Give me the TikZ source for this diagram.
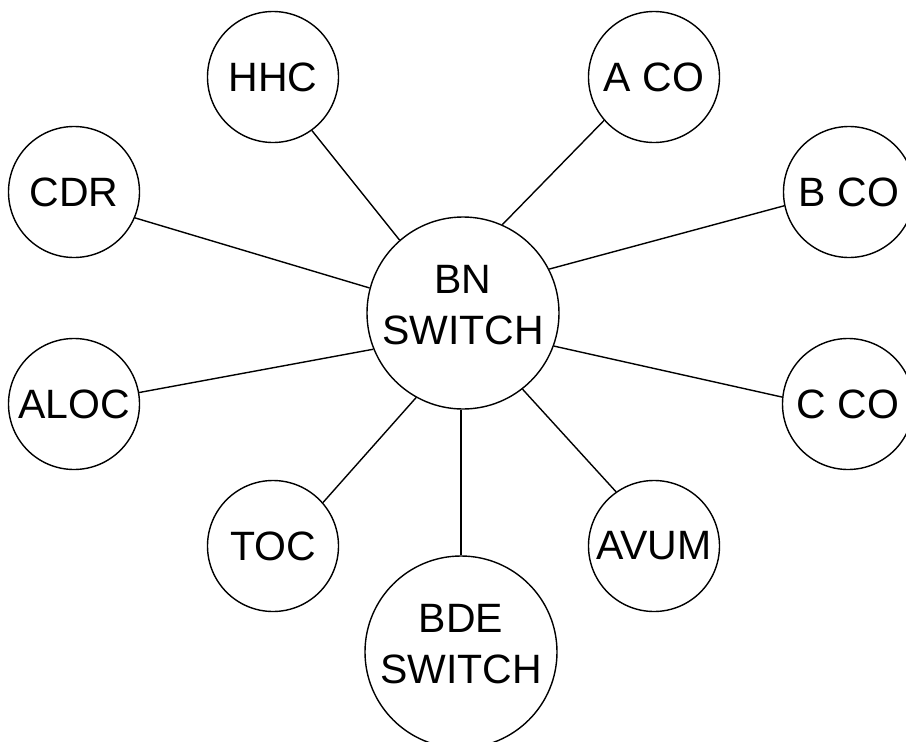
\documentclass[tikz,border=0pt]{standalone}
\usepackage{fontspec}
\setmainfont{Liberation Sans}
\begin{document}
\begin{tikzpicture}[x=1pt,y=-1pt,
  unit/.style={circle,draw,line width=1.4pt,inner sep=0pt,minimum size=131pt,align=center,font=\fontsize{41}{51}\selectfont},
  big/.style={unit,minimum size=192pt,text depth=16pt},
  link/.style={line width=1.4pt}]
\useasboundingbox (0,0) rectangle (906,742);
\node[big] (bn) at (463,313) {BN\\SWITCH};
\node[unit] (hhc) at (273,77) {HHC};
\node[unit] (aco) at (654,77) {A CO};
\node[unit] (cdr) at (74,192) {CDR};
\node[unit] (bco) at (849,192) {B CO};
\node[unit] (aloc) at (74,404) {ALOC};
\node[unit] (cco) at (848,404) {C CO};
\node[unit] (toc) at (273,546) {TOC};
\node[unit] (avum) at (654,546) {AVUM};
\node[big] (bde) at (461,652) {BDE\\SWITCH};
\draw[link] (bn.131.6) -- (hhc.-54.9);
\draw[link] (bn.66.3) -- (aco.221.4);
\draw[link] (bn.165.7) -- (cdr.-23.1);
\draw[link] (bn.27.6) -- (bco.192.8);
\draw[link] (bn.202.9) -- (aloc.10.5);
\draw[link] (bn.-20.7) -- (cco.174.7);
\draw[link] (bn.241.6) -- (toc.41.9);
\draw[link] (bn.-52.5) -- (avum.125.8);
\draw[link] (bde.north) -- (bde.north |- bn.south);
\end{tikzpicture}
\end{document}
